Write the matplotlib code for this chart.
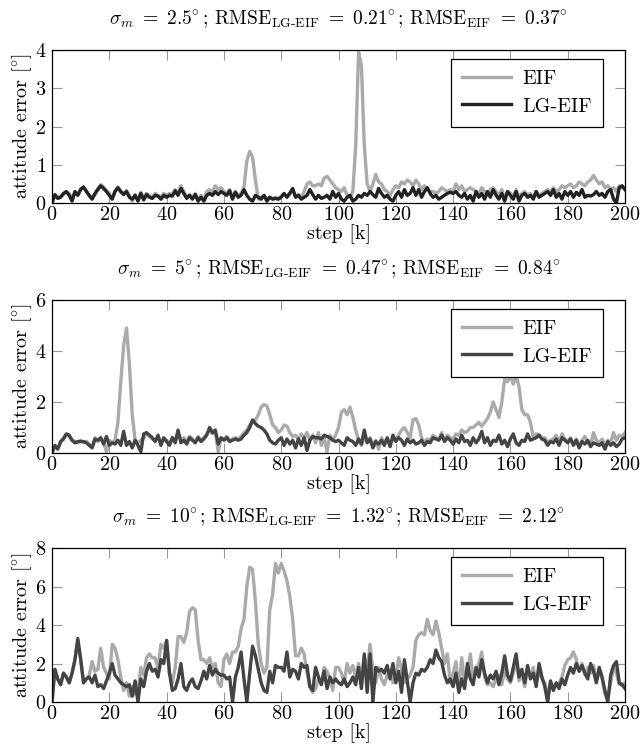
import numpy as np
import matplotlib
matplotlib.use('Agg')
import matplotlib.pyplot as plt

plt.rcParams['font.family'] = 'serif'
plt.rcParams['font.serif'] = ['cmr10']
plt.rcParams['mathtext.fontset'] = 'cm'
plt.rcParams['axes.formatter.use_mathtext'] = True
plt.rcParams['font.size'] = 14.5

# values, one per step (0..200)
eif_1 = [
    0.0, 0.2, 0.15, 0.18, 0.22, 0.28, 0.25, 0.1, 0.28, 0.22,
    0.38, 0.4, 0.32, 0.18, 0.12, 0.22, 0.38, 0.48, 0.42, 0.32,
    0.25, 0.12, 0.32, 0.42, 0.28, 0.25, 0.32, 0.2, 0.05, 0.22,
    0.08, 0.28, 0.12, 0.25, 0.2, 0.15, 0.25, 0.2, 0.15, 0.25,
    0.2, 0.25, 0.22, 0.35, 0.25, 0.45, 0.3, 0.15, 0.22, 0.15,
    0.25, 0.1, 0.2, 0.12, 0.3, 0.35, 0.3, 0.45, 0.35, 0.4,
    0.3, 0.25, 0.35, 0.15, 0.3, 0.2, 0.25, 0.4, 1.1, 1.35,
    1.2, 0.6, 0.1, 0.15, 0.2, 0.1, 0.15, 0.12, 0.15, 0.12,
    0.18, 0.22, 0.18, 0.25, 0.35, 0.18, 0.22, 0.15, 0.3, 0.5,
    0.55, 0.45, 0.45, 0.5, 0.45, 0.65, 0.7, 0.6, 0.5, 0.4,
    0.35, 0.3, 0.4, 0.2, 0.15, 0.3, 1.5, 3.95, 3.6, 1.5,
    0.5, 0.3, 0.5, 0.75, 0.55, 0.5, 0.35, 0.3, 0.2, 0.35,
    0.45, 0.4, 0.55, 0.5, 0.6, 0.55, 0.45, 0.6, 0.5, 0.35,
    0.45, 0.35, 0.3, 0.3, 0.25, 0.3, 0.4, 0.35, 0.3, 0.35,
    0.3, 0.5, 0.35, 0.45, 0.3, 0.35, 0.4, 0.35, 0.3, 0.25,
    0.4, 0.3, 0.2, 0.35, 0.4, 0.3, 0.2, 0.35, 0.1, 0.3,
    0.25, 0.2, 0.35, 0.15, 0.25, 0.3, 0.2, 0.25, 0.15, 0.3,
    0.2, 0.25, 0.3, 0.35, 0.3, 0.4, 0.3, 0.35, 0.45, 0.4,
    0.45, 0.5, 0.4, 0.45, 0.55, 0.5, 0.45, 0.55, 0.6, 0.72,
    0.6, 0.5, 0.55, 0.4, 0.45, 0.35, 0.4, 0.3, 0.45, 0.4,
    0.38]
lg_1 = [
    0.0, 0.22, 0.12, 0.15, 0.25, 0.3, 0.2, 0.05, 0.3, 0.2,
    0.35, 0.42, 0.3, 0.2, 0.1, 0.25, 0.35, 0.45, 0.38, 0.3,
    0.2, 0.1, 0.3, 0.4, 0.3, 0.22, 0.3, 0.15, 0.1, 0.2,
    0.05, 0.25, 0.08, 0.22, 0.15, 0.12, 0.2, 0.18, 0.1, 0.2,
    0.15, 0.2, 0.18, 0.32, 0.2, 0.38, 0.25, 0.12, 0.2, 0.1,
    0.22, 0.05, 0.15, 0.05, 0.2, 0.25, 0.2, 0.3, 0.22, 0.3,
    0.25, 0.2, 0.32, 0.1, 0.28, 0.15, 0.2, 0.35, 0.2, 0.1,
    0.05, 0.2, 0.15, 0.1, 0.2, 0.05, 0.15, 0.1, 0.12, 0.1,
    0.15, 0.25, 0.15, 0.25, 0.38, 0.15, 0.2, 0.1, 0.15, 0.2,
    0.35, 0.22, 0.1, 0.2, 0.12, 0.15, 0.2, 0.1, 0.3, 0.15,
    0.25, 0.1, 0.05, 0.15, 0.2, 0.05, 0.1, 0.2, 0.15, 0.25,
    0.2, 0.3, 0.22, 0.15, 0.38, 0.25, 0.15, 0.2, 0.1, 0.05,
    0.2, 0.3, 0.15, 0.35, 0.2, 0.25, 0.4, 0.2, 0.35, 0.15,
    0.3, 0.4, 0.25, 0.15, 0.2, 0.1, 0.15, 0.2, 0.25, 0.28,
    0.25, 0.3, 0.2, 0.15, 0.25, 0.1, 0.2, 0.05, 0.3, 0.15,
    0.25, 0.1, 0.3, 0.15, 0.35, 0.2, 0.1, 0.25, 0.05, 0.3,
    0.2, 0.1, 0.3, 0.05, 0.2, 0.25, 0.15, 0.2, 0.1, 0.3,
    0.15, 0.2, 0.25, 0.3, 0.2, 0.35, 0.15, 0.25, 0.1, 0.3,
    0.2, 0.3, 0.15, 0.28, 0.2, 0.35, 0.15, 0.2, 0.18, 0.22,
    0.3, 0.2, 0.25, 0.15, 0.3, 0.35, 0.1, 0.0, 0.4, 0.45,
    0.35]

eif_2 = [
    0.0, 0.25, 0.2, 0.4, 0.6, 0.7, 0.65, 0.5, 0.45, 0.4,
    0.5, 0.4, 0.45, 0.35, 0.25, 0.6, 0.45, 0.55, 0.4, 0.05,
    0.5, 0.4, 0.5, 1.2, 2.8, 4.2, 4.9, 3.5, 1.5, 0.5,
    0.4, 0.5, 0.6, 0.75, 0.65, 0.55, 0.5, 0.6, 0.4, 0.55,
    0.5, 0.35, 0.6, 0.5, 0.8, 0.5, 0.6, 0.45, 0.65, 0.55,
    0.45, 0.65, 0.5, 0.6, 0.75, 0.9, 0.75, 0.85, 0.05, 0.55,
    0.55, 0.65, 0.5, 0.55, 0.6, 0.55, 0.65, 0.8, 0.9, 1.1,
    1.2, 1.3, 1.5, 1.8, 1.9, 1.85, 1.5, 1.1, 1.0, 0.8,
    0.9, 1.1, 1.05, 0.8, 0.65, 0.7, 0.55, 0.75, 0.6, 0.8,
    0.5, 0.7, 0.4, 0.8, 0.3, 0.6, 0.05, 0.7, 0.5, 0.7,
    1.0, 1.6, 1.7, 1.5, 1.8, 1.4, 0.9, 0.5, 0.3, 0.6,
    0.45, 0.6, 0.3, 0.5, 0.15, 0.6, 0.4, 0.55, 0.3, 0.6,
    0.5, 0.7, 0.9, 1.0, 0.8, 0.6, 1.3, 1.35, 1.1, 0.6,
    0.4, 0.55, 0.5, 0.7, 0.6, 0.55, 0.8, 0.5, 0.7, 0.6,
    0.55, 0.75, 0.7, 0.9, 0.8, 0.85, 1.0, 1.0, 1.1, 1.2,
    1.05, 1.2, 1.35, 1.6, 2.0, 1.7, 1.4, 2.0, 2.9, 2.8,
    3.0, 2.7, 3.05, 2.6, 1.7, 1.5, 1.5, 1.2, 0.6, 0.75,
    0.7, 0.55, 0.6, 0.4, 0.5, 0.55, 0.7, 0.4, 0.75, 0.55,
    0.45, 0.6, 0.35, 0.55, 0.3, 0.5, 0.65, 0.4, 0.3, 0.8,
    0.5, 0.4, 0.55, 0.3, 0.5, 0.4, 0.8, 0.5, 0.7, 0.65,
    0.8]
lg_2 = [
    0.0, 0.3, 0.15, 0.45, 0.55, 0.75, 0.7, 0.5, 0.4, 0.45,
    0.45, 0.45, 0.4, 0.3, 0.2, 0.55, 0.5, 0.6, 0.35, 0.65,
    0.3, 0.4, 0.35, 0.5, 0.3, 0.85, 0.3, 0.45, 0.2, 0.5,
    0.3, 0.05, 0.75, 0.8, 0.7, 0.6, 0.45, 0.7, 0.3, 0.6,
    0.45, 0.3, 0.6, 0.4, 0.9, 0.4, 0.5, 0.35, 0.6, 0.5,
    0.4, 0.6, 0.45, 0.55, 0.7, 1.0, 0.8, 0.9, 0.35, 0.6,
    0.5, 0.6, 0.45, 0.5, 0.55, 0.5, 0.55, 0.7, 0.8, 1.0,
    1.3, 1.15, 1.05, 1.0, 0.9, 0.75, 0.5, 0.4, 0.35, 0.5,
    0.6, 0.3, 0.55, 0.35, 0.5, 0.2, 0.55, 0.3, 0.6, 0.1,
    0.5, 0.65, 0.6, 0.6, 0.55, 0.7, 0.65, 0.6, 0.5, 0.45,
    0.5, 0.4, 0.3, 0.6, 0.5, 0.45, 0.3, 0.55, 0.35, 0.9,
    0.4, 0.55, 0.2, 0.45, 0.35, 0.5, 0.3, 0.6, 0.25, 0.7,
    0.45, 0.6, 0.5, 0.3, 0.55, 0.4, 0.5, 0.35, 0.4, 0.5,
    0.3, 0.45, 0.4, 0.6, 0.55, 0.5, 0.7, 0.45, 0.6, 0.5,
    0.35, 0.55, 0.4, 0.7, 0.45, 0.5, 0.3, 0.6, 0.4, 0.55,
    0.85, 0.4, 0.6, 0.3, 0.5, 0.45, 0.7, 0.35, 0.5, 0.25,
    0.55, 0.75, 0.4, 0.3, 0.5, 0.45, 0.75, 0.5, 0.55, 0.6,
    0.7, 0.55, 0.5, 0.3, 0.45, 0.4, 0.55, 0.3, 0.6, 0.5,
    0.4, 0.55, 0.3, 0.5, 0.2, 0.45, 0.35, 0.5, 0.25, 0.4,
    0.35, 0.3, 0.4, 0.15, 0.45, 0.3, 0.4, 0.25, 0.35, 0.55,
    0.6]

eif_3 = [
    0.0, 1.7, 1.2, 0.9, 1.5, 1.3, 1.0, 1.5, 2.2, 3.2,
    2.3, 1.0, 1.2, 1.4, 2.1, 1.6, 1.7, 2.8, 1.8, 1.5,
    1.2, 3.0, 2.8, 2.2, 1.3, 0.6, 1.0, 0.3, 0.8, 0.4,
    0.6, 1.8, 1.4, 2.3, 2.5, 2.3, 2.3, 1.7, 3.0, 2.8,
    3.2, 1.5, 1.0, 1.8, 3.4, 3.4, 3.1, 3.6, 4.7, 4.9,
    4.8, 3.2, 2.2, 2.2, 2.0, 2.3, 1.8, 2.0, 1.0, 0.8,
    2.2, 2.5, 2.0, 2.6, 2.6, 2.9, 3.8, 4.3, 6.0, 7.0,
    6.9, 5.2, 3.0, 2.0, 1.5, 1.8, 4.8, 5.6, 7.2, 6.7,
    7.2, 6.8, 6.3, 5.5, 4.3, 2.4, 2.4, 2.8, 2.5, 1.5,
    0.8, 0.5, 0.7, 1.2, 1.0, 1.8, 1.6, 1.2, 0.6, 1.8,
    1.8, 1.5, 1.0, 2.0, 1.5, 1.9, 1.3, 2.0, 1.2, 2.4,
    1.6, 3.0, 1.6, 1.0, 1.8, 1.2, 0.9, 1.4, 1.6, 1.0,
    1.3, 2.3, 1.7, 1.0, 1.2, 1.4, 1.8, 3.2, 3.5, 3.6,
    3.5, 4.3, 3.7, 3.5, 4.2, 3.6, 2.8, 2.0, 2.5, 1.0,
    1.5, 2.1, 0.6, 2.3, 1.0, 1.4, 2.5, 1.2, 1.6, 2.0,
    2.6, 1.3, 0.9, 1.0, 0.8, 1.2, 1.4, 0.9, 1.7, 1.2,
    1.0, 1.5, 2.2, 1.1, 1.5, 0.8, 1.7, 1.3, 1.8, 1.0,
    1.6, 1.2, 1.0, 0.3, 0.9, 0.7, 0.9, 1.0, 1.3, 1.9,
    2.2, 2.3, 2.6, 2.2, 1.6, 2.0, 1.4, 1.8, 1.5, 1.9,
    1.1, 1.6, 1.2, 0.4, 0.2, 1.0, 1.8, 1.5, 0.9, 0.9,
    1.0]
lg_3 = [
    0.0, 1.7, 1.2, 0.9, 1.5, 1.3, 1.0, 1.5, 2.2, 3.3,
    2.2, 1.0, 1.2, 1.3, 1.0, 1.4, 0.8, 0.9, 0.7, 1.1,
    1.5, 2.0, 1.4, 1.2, 1.0, 0.9, 0.8, 0.9, 0.3, 1.1,
    0.0, 1.2, 0.8, 1.6, 2.0, 1.6, 1.7, 1.3, 2.2, 2.0,
    3.2, 1.5, 0.6, 0.7, 1.2, 2.0, 0.8, 0.6, 1.0, 1.2,
    0.8, 0.7, 1.1, 1.6, 1.2, 1.9, 1.4, 1.7, 1.5, 1.4,
    1.4, 1.2, 1.3, 0.0, 1.3, 1.8, 2.6, 1.2, 0.0, 1.5,
    2.9, 2.4, 1.7, 1.0, 0.6, 0.5, 1.6, 1.0, 1.9, 1.8,
    1.8, 1.6, 2.6, 1.3, 1.7, 1.6, 1.2, 2.0, 1.8, 1.9,
    0.8, 0.6, 1.8, 1.3, 0.9, 1.6, 0.7, 1.3, 1.0, 1.2,
    1.0, 0.9, 1.2, 0.8, 1.0, 1.3, 0.9, 1.8, 0.7, 2.5,
    0.5, 2.5, 0.0, 1.8, 1.6, 1.7, 1.5, 1.9, 1.2, 2.0,
    1.0, 1.6, 0.5, 2.2, 1.1, 0.0, 1.0, 1.5, 1.4, 1.7,
    1.6, 1.8, 2.2, 2.0, 2.7, 2.3, 2.1, 1.4, 1.0, 1.2,
    0.8, 1.5, 0.5, 1.2, 0.7, 2.0, 1.2, 0.9, 1.8, 1.3,
    2.2, 1.5, 1.0, 1.4, 1.2, 1.6, 0.9, 1.5, 2.4, 1.4,
    1.1, 1.8, 2.5, 1.3, 1.7, 1.0, 1.9, 1.2, 1.5, 0.8,
    2.0, 1.3, 0.8, 0.0, 1.1, 0.6, 1.0, 0.7, 1.2, 0.9,
    1.4, 1.8, 1.5, 2.0, 1.6, 1.9, 1.5, 1.2, 2.0, 1.6,
    1.0, 1.8, 1.3, 0.6, 0.0, 1.4, 1.9, 2.1, 1.0, 0.9,
    0.7]

titles = [
    r'$\sigma_m\ =\ 2.5\!^\circ$; RMSE$_{\text{LG-EIF}}\ =\ 0.21\!^\circ$; RMSE$_{\text{EIF}}\ =\ 0.37\!^\circ$',
    r'$\sigma_m\ =\ 5\!^\circ$; RMSE$_{\text{LG-EIF}}\ =\ 0.47\!^\circ$; RMSE$_{\text{EIF}}\ =\ 0.84\!^\circ$',
    r'$\sigma_m\ =\ 10\!^\circ$; RMSE$_{\text{LG-EIF}}\ =\ 1.32\!^\circ$; RMSE$_{\text{EIF}}\ =\ 2.12\!^\circ$',
]
ymax = [4, 6, 8]
yticks = [[0, 1, 2, 3, 4], [0, 2, 4, 6], [0, 2, 4, 6, 8]]
lg_colors = ['#222222', '#444444', '#444444']
eif_all = [eif_1, eif_2, eif_3]
lg_all = [lg_1, lg_2, lg_3]

fig = plt.figure(figsize=(6.43, 7.51), dpi=100)
# axes boxes in figure fractions (left, bottom, width, height)
boxes = [(0.0809, 0.7297, 0.8911, 0.2037),
         (0.0809, 0.3968, 0.8911, 0.2037),
         (0.0809, 0.0652, 0.8911, 0.2051)]

for i in range(3):
    ax = fig.add_axes(boxes[i])
    eif = eif_all[i]
    lg = lg_all[i]
    ax.plot(np.arange(len(eif)), eif, color='#aaaaaa', lw=2.4, label='EIF')
    ax.plot(np.arange(len(lg)), lg, color=lg_colors[i], lw=2.4, label='LG-EIF')
    ax.set_xlim(0, 200)
    ax.set_ylim(0, ymax[i])
    ax.set_xticks(np.arange(0, 201, 20))
    ax.set_yticks(yticks[i])
    ax.tick_params(direction='in', length=7, width=0.8, color='#999999',
                   top=True, right=True, labelsize=14.5)
    ax.tick_params(axis='y', pad=4)
    ax.tick_params(axis='x', pad=2)
    for s in ax.spines.values():
        s.set_linewidth(0.9)
    ax.set_xlabel('step [k]', labelpad=0.5)
    ax.set_ylabel(r'attitude error [$\!^\circ\!$]', labelpad=1)
    ax.set_title(titles[i], fontsize=14, pad=18)
    leg = ax.legend(loc='upper right', bbox_to_anchor=(0.962, 0.94),
                    borderaxespad=0, fancybox=False, framealpha=1,
                    edgecolor='black', handlelength=2.4, fontsize=14.5,
                    borderpad=0.55, labelspacing=0.45, handletextpad=0.6)
    leg.get_frame().set_linewidth(0.9)

fig.savefig('out.png', dpi=100)
